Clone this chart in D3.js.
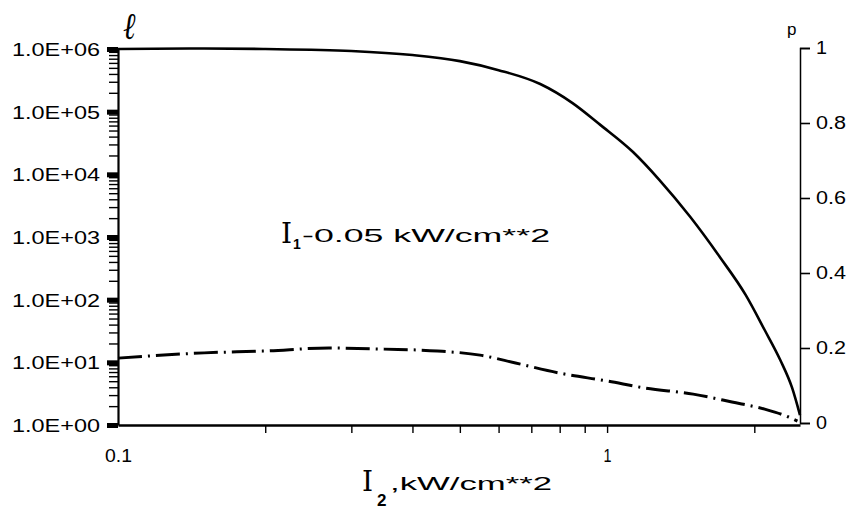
<!DOCTYPE html>
<html>
<head>
<meta charset="utf-8">
<script src="https://cdn.jsdelivr.net/npm/d3@7"></script>
<style>
  html, body { margin: 0; padding: 0; background: #fff; }
  svg { display: block; }
  text { font-family: "Liberation Sans", Arial, sans-serif; fill: #000; }
</style>
</head>
<body>
<div id="chart"></div>
<script>
// ---- data ----
const xTickValues = [0.1, 1];
const xTickLabels = ["0.1", "1"];
const xMinorTicks = [0.2, 0.3, 0.4, 0.5, 0.6, 0.7, 0.8, 0.9, 2];
const leftTickValues = [1, 10, 100, 1000, 10000, 100000, 1000000];
const leftTickLabels = ["1.0E+00", "1.0E+01", "1.0E+02", "1.0E+03", "1.0E+04", "1.0E+05", "1.0E+06"];
const rightTickValues = [0, 0.2, 0.4, 0.6, 0.8, 1];
const rightTickLabels = ["0", "0.2", "0.4", "0.6", "0.8", "1"];

// solid curve (left, log axis) vs I2
const etaX = [0.1, 0.15, 0.2, 0.3, 0.4, 0.5, 0.6, 0.73, 0.85, 0.97, 1.13, 1.28, 1.48, 1.70, 1.92, 2.10, 2.26, 2.39, 2.48];
const etaY = [1.0e6, 1.02e6, 1.0e6, 9.3e5, 8.0e5, 6.4e5, 4.6e5, 2.76e5, 1.37e5, 6.1e4, 2.27e4, 8.1e3, 2.08e3, 480, 119, 32.8, 10.9, 3.9, 1.44];

// dash-dot curve p (right, linear axis) vs I2
const pX = [0.1, 0.15, 0.2, 0.27, 0.35, 0.45, 0.55, 0.65, 0.8, 1.0, 1.2, 1.5, 1.8, 2.1, 2.35, 2.45];
const pY = [0.173, 0.187, 0.192, 0.2, 0.197, 0.192, 0.181, 0.16, 0.133, 0.112, 0.093, 0.077, 0.056, 0.037, 0.016, 0.005];

// ---- drawing ----
const W = 854, H = 513;
const svg = d3.select("#chart").append("svg").attr("width", W).attr("height", H);

const x = d3.scaleLog().domain([0.1, 2.48]).range([118, 800]);
const yL = d3.scaleLog().domain([1, 1e6]).range([425, 49]);
const yR = d3.scaleLinear().domain([0, 1]).range([423, 48]);

// left axis minor ticks
const leftMinor = [];
leftTickValues.slice(0, -1).forEach(d => { for (let k = 2; k <= 9; k++) leftMinor.push(d * k); });
const gLm = svg.append("g").attr("transform", "translate(118,0)")
  .call(d3.axisLeft(yL).tickValues(leftMinor).tickSize(9).tickFormat(""));
gLm.select(".domain").remove();
gLm.selectAll(".tick line").attr("stroke", "#000").attr("stroke-width", 1.4);

// left axis major
const gL = svg.append("g").attr("transform", "translate(118,0)")
  .call(d3.axisLeft(yL).tickValues(leftTickValues).tickSize(0).tickPadding(18)
    .tickFormat((d, i) => leftTickLabels[i]));
gL.select(".domain").attr("stroke", "#000").attr("stroke-width", 2.2);
gL.selectAll(".tick").append("rect").attr("x", -11).attr("y", -2.5).attr("width", 11).attr("height", 5).attr("fill", "#000");
gL.selectAll(".tick text").style("font-size", "18px")
  .attr("textLength", 88).attr("lengthAdjust", "spacingAndGlyphs")
  .attr("dy", "0.36em");

// bottom axis
const gB = svg.append("g").attr("transform", "translate(0,425)")
  .call(d3.axisBottom(x).tickValues(xTickValues).tickSize(0).tickPadding(24)
    .tickFormat((d, i) => xTickLabels[i]));
gB.select(".domain").attr("stroke", "#000").attr("stroke-width", 2.5);
gB.selectAll(".tick text").style("font-size", "18px")
  .attr("textLength", (d, i) => i === 0 ? 27 : 8).attr("lengthAdjust", "spacingAndGlyphs");
const gBm = svg.append("g").attr("transform", "translate(0,425)")
  .call(d3.axisBottom(x).tickValues(xMinorTicks.concat([1])).tickSize(8).tickFormat(""));
gBm.select(".domain").remove();
gBm.selectAll(".tick line").attr("stroke", "#000").attr("stroke-width", 1.4);

// right axis
const gR = svg.append("g").attr("transform", "translate(800,0)")
  .call(d3.axisRight(yR).tickValues(rightTickValues).tickSize(10).tickPadding(6)
    .tickFormat((d, i) => rightTickLabels[i]));
gR.select(".domain").attr("stroke", "#000").attr("stroke-width", 1.5);
gR.selectAll(".tick line").attr("stroke", "#000").attr("stroke-width", 1.6);
gR.selectAll(".tick text").style("font-size", "18px")
  .attr("textLength", (d, i) => rightTickLabels[i].length > 1 ? 30 : 11).attr("lengthAdjust", "spacingAndGlyphs");

// curves
const etaData = etaX.map((v, i) => [v, etaY[i]]);
const pData = pX.map((v, i) => [v, pY[i]]);
svg.append("path").datum(etaData)
  .attr("d", d3.line().x(d => x(d[0])).y(d => yL(d[1])).curve(d3.curveMonotoneX))
  .attr("fill", "none").attr("stroke", "#000").attr("stroke-width", 2.6);
svg.append("path").datum(pData)
  .attr("d", d3.line().x(d => x(d[0])).y(d => yR(d[1])).curve(d3.curveMonotoneX))
  .attr("fill", "none").attr("stroke", "#000").attr("stroke-width", 3)
  .attr("stroke-dasharray", "24,6,2,6");

// axis titles
svg.append("text").attr("transform", "translate(123,39) scale(1,1.25)")
  .style("font-family", "'DejaVu Serif', serif").style("font-style", "italic").style("font-size", "30px")
  .text("ℓ");
svg.append("text").attr("x", 787).attr("y", 35).style("font-size", "17px").text("p");

// annotation
svg.append("text").attr("x", 281).attr("y", 243)
  .style("font-family", "'DejaVu Serif', serif").style("font-size", "28px").text("I");
svg.append("text").attr("x", 293).attr("y", 249).style("font-size", "14px").style("font-weight", "bold").text("1");
svg.append("text").attr("x", 302).attr("y", 242).style("font-size", "19px")
  .attr("textLength", 248).attr("lengthAdjust", "spacingAndGlyphs")
  .text("-0.05 kW/cm**2");

// x-axis title
svg.append("text").attr("x", 362).attr("y", 491)
  .style("font-family", "'DejaVu Serif', serif").style("font-size", "28px").text("I");
svg.append("text").attr("x", 377).attr("y", 506).style("font-size", "17px").style("font-weight", "bold").text("2");
svg.append("text").attr("x", 390).attr("y", 490).style("font-size", "19px")
  .attr("textLength", 162).attr("lengthAdjust", "spacingAndGlyphs")
  .text(",kW/cm**2");
</script>
</body>
</html>
